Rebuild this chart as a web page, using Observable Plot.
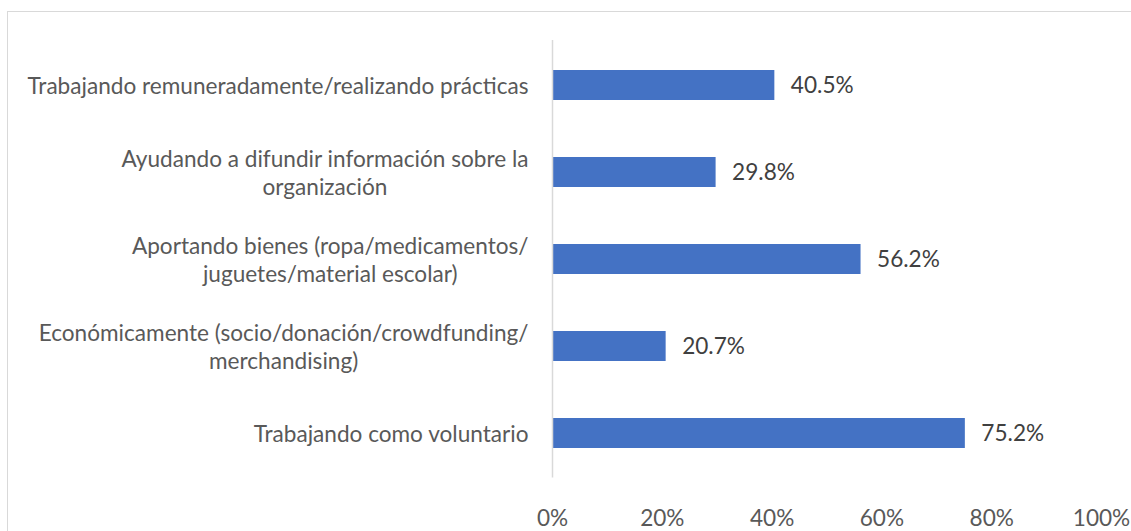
<!DOCTYPE html>
<html><head><meta charset="utf-8">
<script src="https://cdn.jsdelivr.net/npm/d3@7"></script>
<script src="https://cdn.jsdelivr.net/npm/@observablehq/plot@0.6"></script>
<style>
html,body{margin:0;padding:0;background:#fff;overflow:hidden;}
#frame{position:absolute;left:7px;top:11px;width:1200px;height:600px;border-top:1.5px solid #d9d9d9;border-left:1.5px solid #d9d9d9;}
#chart{position:absolute;left:0;top:0;}
</style></head><body>
<div id="frame"></div><div id="chart"></div>
<script>
const categories = [
  "Trabajando remuneradamente/realizando prácticas",
  "Ayudando a difundir información sobre la organización",
  "Aportando bienes (ropa/medicamentos/juguetes/material escolar)",
  "Económicamente (socio/donación/crowdfunding/merchandising)",
  "Trabajando como voluntario"
];
const categoryLabels = [
  "Trabajando remuneradamente/realizando prácticas",
  "Ayudando a difundir información sobre la\norganización",
  "Aportando bienes (ropa/medicamentos/\njuguetes/material escolar)",
  "Económicamente (socio/donación/crowdfunding/\nmerchandising)",
  "Trabajando como voluntario"
];
const values = [40.5, 29.8, 56.2, 20.7, 75.2];
const xTicks = [0, 20, 40, 60, 80, 100];

const data = categories.map((c, i) => ({category: c, label: categoryLabels[i], value: values[i]}));
const labelOf = new Map(categories.map((c, i) => [c, categoryLabels[i]]));
const FONT = "Lato";
const FS = 22.6;

const plot = Plot.plot({
  width: 1131,
  height: 531,
  marginTop: 40,
  marginBottom: 53.5,
  marginLeft: 552,
  marginRight: 30,
  style: {fontFamily: FONT, fontSize: FS + "px", color: "#595959", background: "transparent"},
  x: {domain: [0, 100], label: null},
  y: {domain: categories, paddingInner: 0.657, paddingOuter: 0.3285, label: null},
  marks: [
    Plot.barX(data, {x: "value", y: "category", fill: "#4472c4"}),
    Plot.ruleX([0], {stroke: "#d9d9d9", strokeWidth: 1.5}),
    Plot.text(data, {x: "value", y: "category", text: d => d.value.toFixed(1) + "%", textAnchor: "start", dx: 16, fill: "#404040", fontSize: FS}),
    Plot.axisX({ticks: xTicks, tickFormat: d => d + "%", tickSize: 0, tickPadding: 32, fontSize: FS, label: null}),
    Plot.axisY({tickFormat: d => labelOf.get(d), tickSize: 0, tickPadding: 24, fontSize: FS, lineHeight: 1.24, label: null})
  ]
});
document.getElementById("chart").appendChild(plot);

// center multi-line category labels within their right-aligned block
const yAxisTexts = [...plot.querySelectorAll("[aria-label='y-axis tick label'] text")];
yAxisTexts.forEach(t => {
  const before = t.getBBox();
  const right = before.x + before.width;
  t.setAttribute("text-anchor", "middle");
  const after = t.getBBox();
  const shift = right - (after.x + after.width);
  const tr = t.getAttribute("transform") || "";
  t.setAttribute("transform", tr + ` translate(${shift},0)`);
});
</script>
</body></html>
